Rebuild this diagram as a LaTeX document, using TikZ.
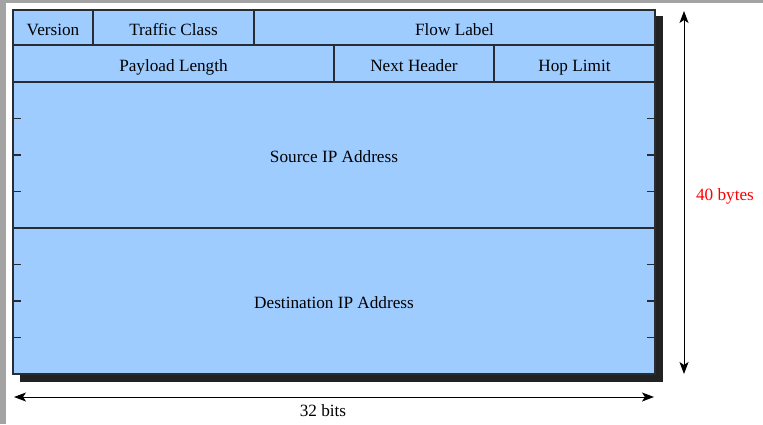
\documentclass[tikz,border=0pt]{standalone}
\usepackage{fontspec}
\setmainfont{Liberation Serif}
\usetikzlibrary{arrows.meta}
\definecolor{fieldblue}{RGB}{158,204,255}
\definecolor{edgegray}{RGB}{40,44,52}
\definecolor{framegray}{RGB}{163,163,163}
\definecolor{shadowgray}{RGB}{34,34,34}
\tikzset{
  field/.style={draw=edgegray, line width=1.2pt, fill=fieldblue, inner sep=0pt,
    text height=15pt, text depth=0pt, font=\fontsize{17.2}{19}\selectfont},
  tick/.style={draw=edgegray, line width=1.2pt},
  dimarrow/.style={line width=1pt, {Stealth[length=12pt,width=9pt,inset=3pt]}-{Stealth[length=12pt,width=9pt,inset=3pt]}},
  dimlabel/.style={font=\fontsize{17.2}{19}\selectfont, inner sep=0pt}
}
\begin{document}
\begin{tikzpicture}[x=1pt,y=-1pt]
\useasboundingbox (0,0) rectangle (763,424);
\fill[framegray] (0,0) rectangle (763,424);
\fill[white] (6,3) rectangle (763,424);
% shadow
\fill[shadowgray] (20,16) rectangle (663,382);
% row 1
\node[field, minimum width=80pt, minimum height=35pt] (ver) at (53,27.5) {Version};
\node[field, minimum width=160pt, minimum height=35pt] (tc) at (173.5,27.5) {Traffic Class};
\node[field, minimum width=401pt, minimum height=35pt] (fl) at (454.5,27.5) {Flow Label};
% row 2
\node[field, minimum width=321pt, minimum height=37pt] (pl) at (173.5,63.5) {Payload Length};
\node[field, minimum width=160pt, minimum height=37pt] (nh) at (414,63.5) {Next Header};
\node[field, minimum width=161pt, minimum height=37pt] (hl) at (574.5,63.5) {Hop Limit};
% addresses
\node[field, minimum width=642pt, minimum height=146pt] (src) at (334,155) {Source IP Address};
\node[field, minimum width=642pt, minimum height=146pt] (dst) at (334,301) {Destination IP Address};
% ticks
\foreach \y in {118.5,155,191.5,264.5,301,337.5}{
  \draw[tick] (13,\y) -- (21,\y);
  \draw[tick] (647,\y) -- (655,\y);
}
% dimension arrows
\coordinate (vtop) at (684,11);
\coordinate (vbot) at (684,374);
\coordinate (hleft) at (14,397);
\coordinate (hright) at (654,397);
\draw[dimarrow] (vtop) -- (vbot);
\draw[dimarrow] (hleft) -- (hright);
\node[dimlabel, text=red] (bytes) at (725,196) {40 bytes};
\node[dimlabel] (bits) at (323,411) {32 bits};
\end{tikzpicture}
\end{document}
